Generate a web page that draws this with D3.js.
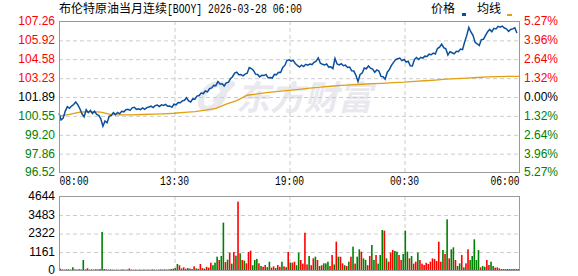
<!DOCTYPE html>
<html>
<head>
<meta charset="utf-8">
<script src="https://cdn.jsdelivr.net/npm/d3@7"></script>
<style>
  body { margin: 0; background: #fff; }
  svg text { font-family: "Liberation Sans", Arial, sans-serif; font-size: 12px; }
</style>
</head>
<body>
<div id="chart"></div>
<script>
// tick labels
var timeTicks = [0, 330, 660, 990, 1320];
var timeLabels = ["08:00", "13:30", "19:00", "00:30", "06:00"];
var priceTicks = [107.26, 105.92, 104.58, 103.23, 101.89, 100.55, 99.20, 97.86, 96.52];
var pctTicks = [5.27, 3.96, 2.64, 1.32, 0, -1.32, -2.64, -3.96, -5.27];
var volTicks = [0, 1161, 2322, 3483, 4644];
var prevClose = 101.89;

// price every 6 minutes from 08:00
var price = [
  100.70, 100.22, 100.35, 100.85, 101.16, 101.05, 101.21, 101.32, 101.50, 101.30,
  101.02, 100.66, 100.45, 100.95, 100.74, 100.90, 100.68, 100.84, 100.62, 100.55,
  100.30, 99.78, 100.15, 100.02, 100.48, 100.55, 100.74, 100.60, 100.76, 100.66,
  100.84, 100.80, 100.95, 100.98, 100.90, 101.08, 101.12, 100.98, 101.02, 100.96,
  101.08, 100.98, 101.10, 101.14, 101.20, 101.10, 101.24, 101.28, 101.18, 101.30,
  101.26, 101.33, 101.20, 101.22, 101.12, 101.34, 101.30, 101.46, 101.44, 101.58,
  101.62, 101.80, 101.58, 101.50, 101.72, 101.70, 101.92, 101.96, 102.14, 102.10,
  102.28, 102.22, 102.45, 102.50, 102.68, 102.66, 102.95, 102.78, 102.80, 102.64,
  102.86, 102.90, 103.15, 103.30, 103.56, 103.62, 103.44, 103.46, 103.36, 103.48,
  103.55, 103.95, 103.88, 103.74, 103.48, 103.46, 103.28, 103.40, 103.38, 103.46,
  103.22, 103.24, 103.20, 103.46, 103.44, 103.62, 103.60, 103.95, 104.10, 104.45,
  104.50, 104.40, 104.46, 104.24, 104.10, 103.98, 104.12, 104.02, 104.18, 104.12,
  104.20, 104.16, 104.32, 104.40, 104.64, 104.26, 104.18, 104.14, 104.20, 103.98,
  104.00, 103.88, 104.60, 104.20, 104.14, 104.22, 104.08, 104.12, 103.96, 103.98,
  103.72, 103.70, 103.40, 102.96, 103.46, 103.56, 103.92, 103.86, 104.06, 103.90,
  103.84, 103.62, 103.78, 103.70, 103.32, 103.30, 103.12, 103.62, 103.80, 104.10,
  104.32, 104.52, 104.58, 104.62, 104.44, 104.52, 104.34, 104.40, 104.08, 104.06,
  104.52, 104.66, 104.52, 104.68, 104.62, 104.76, 104.74, 104.90, 104.86, 104.98,
  104.92, 105.30, 105.40, 105.62, 105.36, 105.28, 104.84, 105.08, 105.00, 104.92,
  105.10, 105.08, 105.26, 105.22, 105.76, 106.22, 106.80, 106.48, 106.24, 105.74,
  105.64, 105.52, 105.94, 105.96, 106.24, 106.50, 106.66, 106.50, 106.74, 106.70,
  106.88, 106.82, 106.90, 106.76, 106.70, 106.52, 106.66, 106.70, 106.78, 106.40
];

// average price every 30 minutes
var avgPrice = [
  100.50, 100.62, 100.78, 100.82, 100.78, 100.60, 100.58, 100.59, 100.61, 100.63,
  100.66, 100.70, 100.76, 100.82, 100.92, 101.05, 101.35, 101.60, 101.98, 102.08,
  102.18, 102.26, 102.33, 102.40, 102.48, 102.55, 102.62, 102.68, 102.72, 102.76,
  102.80, 102.83, 102.87, 102.91, 102.97, 103.01, 103.06, 103.12, 103.16, 103.20,
  103.24, 103.29, 103.31, 103.32, 103.32
];

// volume every 6 minutes, r = up, g = down
var volume = [
  80, 40, 30, 50, 40, 30, 170, 40, 30, 50,
  40, 630, 40, 110, 30, 40, 30, 50, 40, 60,
  2390, 60, 40, 30, 40, 30, 20, 30, 20, 30,
  40, 20, 30, 90, 30, 20, 30, 20, 30, 20,
  30, 20, 30, 20, 40, 30, 20, 30, 40, 30,
  40, 30, 40, 60, 80, 120, 377, 293, 100, 167,
  80, 120, 90, 60, 230, 100, 80, 377, 120, 90,
  200, 150, 460, 300, 460, 837, 628, 880, 2972, 500,
  650, 1088, 400, 1130, 900, 4290, 1050, 630, 590, 420,
  1130, 1214, 300, 630, 700, 420, 250, 200, 310, 180,
  520, 150, 230, 120, 310, 200, 520, 230, 180, 1130,
  460, 460, 520, 300, 1088, 628, 400, 2343, 350, 879,
  300, 732, 837, 628, 250, 300, 418, 418, 523, 250,
  941, 350, 1778, 837, 837, 418, 300, 250, 523, 837,
  1464, 400, 837, 1297, 1150, 732, 628, 300, 879, 1569,
  628, 941, 400, 941, 2510, 2468, 732, 523, 1088, 1255,
  1192, 1150, 941, 628, 1004, 2468, 1150, 732, 879, 400,
  523, 1088, 628, 400, 314, 450, 380, 523, 732, 690,
  565, 1778, 523, 1255, 1004, 3180, 732, 1297, 1423, 628,
  251, 418, 941, 167, 418, 1297, 628, 879, 1925, 628,
  1255, 167, 251, 200, 628, 314, 523, 251, 150, 167,
  100, 60, 60, 60, 60, 60, 60, 60, 60, 60
];
var volColor =
  "rrrrgrgrrr" + "rgrrrrgrrr" + "ggrrgrrgrr" + "rgrrrgrrrg" + "rrrrgrrrrg" +
  "rrrrrggrrr" + "rgrrrgrrrg" + "rrrgggrggr" + "grgrgrgrgr" + "rrgggrgrrg" +
  "grrgrrgrgr" + "grrggrrrrg" + "rrgrgrgggr" + "rgrgrrgrgr" + "grggrggrrg" +
  "grgggrgrrr" + "ggrrgggrgr" + "rgrrrrrrrr" + "rrrgrgrggr" + "ggrgrrgggg" +
  "grggrrggrr" + "rrrrrrrrrr";

var svgWidth = 578;
var svgHeight = 276;
var left = 59, right = 519;
var mainTop = 21, mainBottom = 172;
var volTop = 196, volBottom = 270;
var width = right - left;

var red = "#ff0000", green = "#008000";
var gridColor = "#cccccc", frameColor = "#999999";

var svg = d3.select("#chart")
  .append("svg")
  .attr("width", svgWidth)
  .attr("height", svgHeight);

var xScale = d3.scaleLinear().domain([0, 1320]).range([left, right]);
var yPrice = d3.scaleLinear().domain([96.52, 107.26]).range([mainBottom, mainTop]);
var yPct = d3.scaleLinear().domain([-5.27, 5.27]).range([mainBottom, mainTop]);
var yVol = d3.scaleLinear().domain([0, 4644]).range([volBottom, volTop]);

function labelColor(v) {
  if (Math.abs(v - prevClose) < 0.005) return "#000";
  return v > prevClose ? red : green;
}

// title + legend
svg.append("text")
  .attr("x", 59).attr("y", 13)
  .style("font-family", "'Noto Sans CJK SC', sans-serif")
  .style("font-size", "12px")
  .text("布伦特原油当月连续");
svg.append("text")
  .attr("x", 167).attr("y", 13)
  .attr("textLength", 135)
  .attr("lengthAdjust", "spacingAndGlyphs")
  .style("font-family", "'Liberation Mono', monospace")
  .style("font-size", "12px")
  .text("[BOOY] 2026-03-28 06:00");

svg.append("text")
  .attr("x", 431).attr("y", 13)
  .style("font-family", "'Noto Sans CJK SC', sans-serif")
  .text("价格");
svg.append("rect").attr("x", 462).attr("y", 13).attr("width", 4).attr("height", 3).attr("fill", "#0a4f9e");
svg.append("text")
  .attr("x", 477).attr("y", 13)
  .style("font-family", "'Noto Sans CJK SC', sans-serif")
  .text("均线");
svg.append("rect").attr("x", 507).attr("y", 14).attr("width", 5).attr("height", 2).attr("fill", "#e0a010");

// watermark
var mark = svg.append("g").attr("fill", "none");
mark.append("path")
  .attr("d", "M226,86 C214,80 202,90 201,102 C200,110 210,111 218,104 C224,98 226,92 222,88 M216,100 L232,84")
  .attr("stroke", "#e8e8ee").attr("stroke-width", 6).attr("stroke-linecap", "round");
svg.append("text")
  .attr("x", 236).attr("y", 110)
  .style("font-family", "'Noto Sans CJK SC', sans-serif")
  .style("font-size", "34px")
  .style("font-weight", "bold")
  .style("font-style", "italic")
  .attr("fill", "#e8e8ee")
  .text("东方财富");

// grids
function hGrid(scale, ticks) {
  var g = svg.append("g")
    .attr("transform", `translate(${left}, 0.5)`)
    .call(d3.axisLeft(scale).tickValues(ticks).tickSize(-width).tickFormat(""));
  g.select(".domain").remove();
  g.selectAll("line").attr("stroke", gridColor).attr("stroke-dasharray", "4,3");
}
function vGrid(top, bottom) {
  var g = svg.append("g")
    .attr("transform", `translate(0.5, ${bottom})`)
    .call(d3.axisBottom(xScale).tickValues(timeTicks.slice(1, 4)).tickSize(-(bottom - top)).tickFormat(""));
  g.select(".domain").remove();
  g.selectAll("line").attr("stroke", gridColor).attr("stroke-dasharray", "4,3");
}
hGrid(yPrice, priceTicks.slice(1, 8));
vGrid(mainTop, mainBottom);
hGrid(yVol, volTicks.slice(1, 4));
vGrid(volTop, volBottom);

// volume bars
svg.append("g")
  .selectAll("rect")
  .data(volume)
  .enter()
  .append("rect")
  .attr("x", (d, i) => xScale(i * 6) + 0.5)
  .attr("y", d => yVol(d))
  .attr("width", 1.6)
  .attr("height", d => yVol(0) - yVol(d))
  .attr("fill", (d, i) => volColor[i] === "r" ? red : green);

// average + price lines
var avgLine = d3.line()
  .x((d, i) => xScale(i * 30))
  .y(d => yPrice(d));
svg.append("path")
  .attr("d", avgLine(avgPrice))
  .attr("fill", "none")
  .attr("stroke", "#e0a010")
  .attr("stroke-width", 1.3);

var priceLine = d3.line()
  .x((d, i) => xScale(i * 6))
  .y(d => yPrice(d));
svg.append("path")
  .attr("d", priceLine(price))
  .attr("fill", "none")
  .attr("stroke", "#0a4f9e")
  .attr("stroke-width", 1.5);

// frames
svg.append("rect")
  .attr("x", left + 0.5).attr("y", mainTop + 0.5)
  .attr("width", width).attr("height", mainBottom - mainTop)
  .attr("fill", "none").attr("stroke", frameColor);
svg.append("rect")
  .attr("x", left + 0.5).attr("y", volTop + 0.5)
  .attr("width", width).attr("height", volBottom - volTop)
  .attr("fill", "none").attr("stroke", frameColor);

// axes labels
var leftAxis = svg.append("g")
  .attr("transform", `translate(${left}, 0)`)
  .call(d3.axisLeft(yPrice).tickValues(priceTicks).tickSize(0).tickPadding(4).tickFormat(d3.format(".2f")));
leftAxis.select(".domain").remove();
leftAxis.selectAll("text")
  .style("font-size", "12px")
  .attr("fill", d => labelColor(d));

var rightAxis = svg.append("g")
  .attr("transform", `translate(${right}, 0)`)
  .call(d3.axisRight(yPct).tickValues(pctTicks).tickSize(0).tickPadding(5).tickFormat(d => Math.abs(d).toFixed(2) + "%"));
rightAxis.select(".domain").remove();
rightAxis.selectAll("text")
  .style("font-size", "12px")
  .attr("fill", d => d > 0 ? red : (d < 0 ? green : "#000"));

var timeAxis = svg.append("g")
  .attr("transform", `translate(0, ${mainBottom})`)
  .call(d3.axisBottom(xScale).tickValues(timeTicks).tickSize(0).tickPadding(4).tickFormat((d, i) => timeLabels[i]));
timeAxis.select(".domain").remove();
timeAxis.selectAll("text")
  .style("font-family", "'Liberation Mono', monospace")
  .style("font-size", "12px")
  .attr("textLength", 29)
  .attr("lengthAdjust", "spacingAndGlyphs")
  .attr("fill", "#000")
  .attr("text-anchor", (d, i) => i === 0 ? "start" : (i === timeTicks.length - 1 ? "end" : "middle"));

var volAxis = svg.append("g")
  .attr("transform", `translate(${left}, 0)`)
  .call(d3.axisLeft(yVol).tickValues(volTicks).tickSize(0).tickPadding(4).tickFormat(d3.format("d")));
volAxis.select(".domain").remove();
volAxis.selectAll("text")
  .style("font-size", "12px")
  .attr("fill", "#000");
</script>
</body>
</html>
